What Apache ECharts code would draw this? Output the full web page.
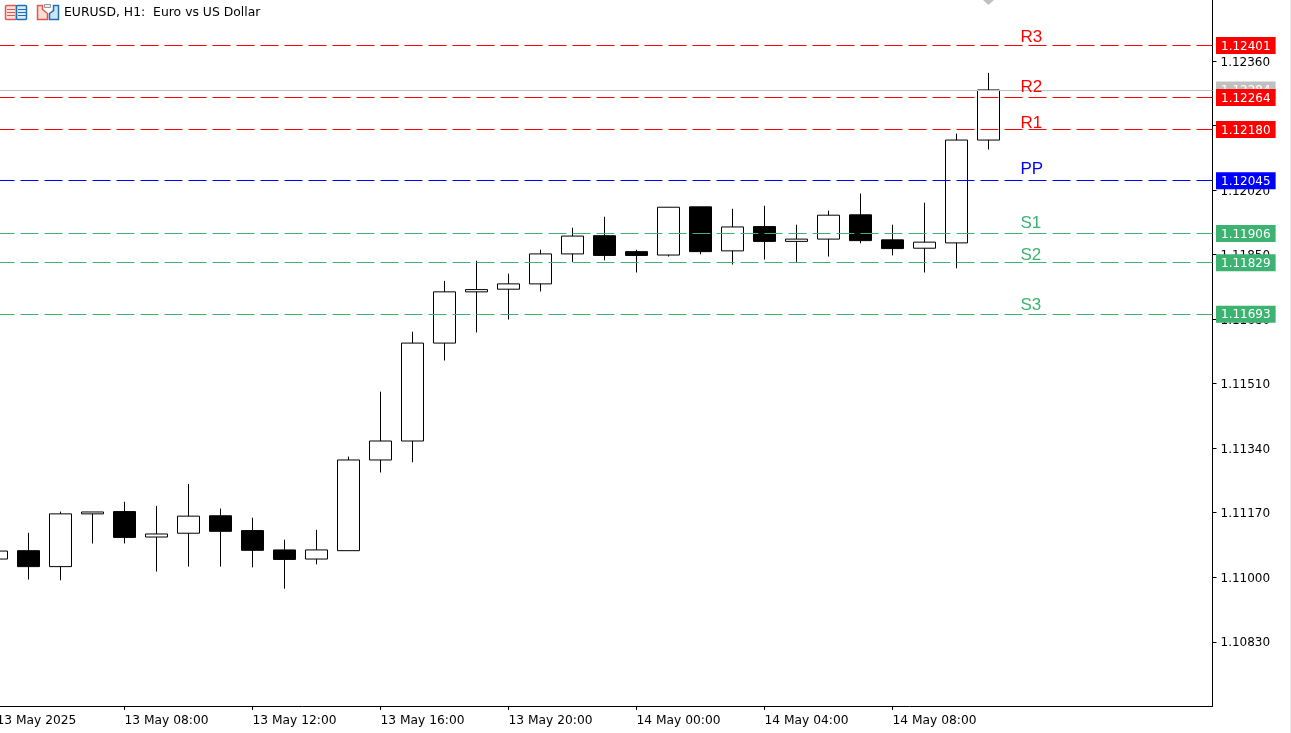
<!DOCTYPE html>
<html>
<head>
<meta charset="utf-8">
<title>EURUSD, H1</title>
<script src="https://cdn.jsdelivr.net/npm/echarts@6/dist/echarts.min.js"></script>
<style>
html,body{margin:0;padding:0;background:#fff;overflow:hidden}
#myChart{width:1291px;height:733px}
</style>
</head>
<body>
<div id="myChart"></div>
<script>
// x axis, one slot per hour, the last ones are still empty
const categories = [
  '13 May 2025','13 May 05:00','13 May 06:00','13 May 07:00','13 May 08:00','13 May 09:00','13 May 10:00','13 May 11:00',
  '13 May 12:00','13 May 13:00','13 May 14:00','13 May 15:00','13 May 16:00','13 May 17:00','13 May 18:00','13 May 19:00',
  '13 May 20:00','13 May 21:00','13 May 22:00','13 May 23:00','14 May 00:00','14 May 01:00','14 May 02:00','14 May 03:00',
  '14 May 04:00','14 May 05:00','14 May 06:00','14 May 07:00','14 May 08:00','14 May 09:00','14 May 10:00','14 May 11:00',
  '14 May 12:00','14 May 13:00','14 May 14:00','14 May 15:00','14 May 16:00','14 May 17:00','14 May 18:00'
];
const opens = [1.11048,1.11070,1.11028,1.11167,1.11173,1.11106,1.11116,1.11162,1.11123,1.11072,1.11048,1.11070,1.11309,1.11359,1.11617,1.11752,1.11759,1.11773,1.11852,1.11900,1.11858,1.11849,1.11976,1.11860,1.11924,1.11885,1.11891,1.11955,1.11889,1.11867,1.11881,1.12152];
const closes = [1.11069,1.11028,1.11167,1.11172,1.11105,1.11114,1.11161,1.11121,1.11071,1.11047,1.11072,1.11309,1.11359,1.11617,1.11752,1.11758,1.11773,1.11852,1.11899,1.11848,1.11848,1.11975,1.11858,1.11923,1.11885,1.11891,1.11954,1.11887,1.11866,1.11883,1.12152,1.12284];
const lows = [1.11048,1.10994,1.10992,1.11089,1.11089,1.11015,1.11028,1.11028,1.11026,1.10970,1.11034,1.11070,1.11276,1.11303,1.11571,1.11645,1.11679,1.11753,1.11831,1.11835,1.11803,1.11845,1.11851,1.11824,1.11837,1.11831,1.11845,1.11880,1.11848,1.11803,1.11814,1.12127];
const highs = [1.11069,1.11117,1.11173,1.11172,1.11199,1.11188,1.11246,1.11181,1.11157,1.11099,1.11125,1.11318,1.11489,1.11647,1.11781,1.11834,1.11800,1.11863,1.11921,1.11950,1.11863,1.11975,1.11976,1.11971,1.11979,1.11929,1.11966,1.12011,1.11929,1.11987,1.12169,1.12329];

const priceTicks = [1.10830,1.11000,1.11170,1.11340,1.11510,1.11680,1.11850,1.12020,1.12190,1.12360];

// pivot levels and where their names sit
const levelNames = ['R3','R2','R1','PP','S1','S2','S3'];
const levelValues = [1.12401,1.12264,1.12180,1.12045,1.11906,1.11829,1.11693];
const levelNamePrices = [1.12408,1.12274,1.12179,1.12058,1.11918,1.11833,1.11700];
const levelColors = ['#ff0000','#ff0000','#ff0000','#0000ff','#3cb371','#3cb371','#3cb371'];
const levelNameSlot = 32;

const bidPrice = 1.12284;
const bidColor = '#c0c0c0';
const lastSlot = 31;
const edgeSlot = 38;
const arrowPrice = 1.12521;

let myChart = echarts.init(document.getElementById('myChart'), null, {renderer:'canvas'});

const FONT = '"DejaVu Sans"';
const candleData = opens.map((o,i)=>[o,closes[i],lows[i],highs[i]]);

// price tags right of the axis, bid first so the pivots cover it
const tagData = [bidPrice].concat(levelValues).map((v,i)=>({
  value:[edgeSlot,v],
  label:{backgroundColor:i===0?bidColor:levelColors[i-1]}
}));

let option = {
  animation:false,
  backgroundColor:'#fff',
  grid:{left:-3.5,width:1216,top:0,height:706,outerBoundsMode:'none',containLabel:false},
  xAxis:{
    type:'category',
    data:categories,
    boundaryGap:false,
    axisLine:{show:true,onZero:false,lineStyle:{color:'#000',width:1}},
    axisTick:{show:true,length:4,interval:(i)=>i%4===0&&i<=28,lineStyle:{color:'#000'}},
    axisLabel:{
      show:true,
      interval:(i)=>i%4===0&&i<=28,
      align:'left',
      margin:8,
      padding:[1,0,0,0],
      color:'#000',
      fontFamily:FONT,
      fontSize:12.25
    },
    splitLine:{show:false}
  },
  yAxis:{
    type:'value',
    position:'right',
    min:1.1066074,
    max:1.1252104,
    axisLine:{show:true,lineStyle:{color:'#000',width:1}},
    axisTick:{show:true,length:4,customValues:priceTicks,lineStyle:{color:'#000'}},
    axisLabel:{
      show:true,
      customValues:priceTicks,
      formatter:(v)=>v.toFixed(5),
      margin:8,
      verticalAlign:'top',
      lineHeight:3,
      color:'#000',
      fontFamily:FONT,
      fontSize:12
    },
    splitLine:{show:false}
  },
  series:[
    {
      name:'EURUSD',
      type:'candlestick',
      data:candleData,
      barWidth:22,
      itemStyle:{color:'#fff',color0:'#000',borderColor:'#000',borderColor0:'#000',borderWidth:1},
      z:2
    },
    {
      name:'bid',
      type:'line',
      data:[],
      markLine:{
        silent:true,
        symbol:'none',
        animation:false,
        precision:5,
        lineStyle:{type:'solid',color:bidColor,width:1},
        label:{show:false},
        data:[{yAxis:bidPrice}]
      },
      z:3
    },
    {
      name:'pivots',
      type:'line',
      data:[],
      markLine:{
        silent:true,
        symbol:'none',
        animation:false,
        precision:5,
        label:{show:false},
        data:levelValues.map((v,i)=>({
          yAxis:v,
          name:levelNames[i],
          lineStyle:{type:[18,6],color:levelColors[i],width:1}
        }))
      },
      z:4
    },
    {
      name:'tags',
      type:'scatter',
      symbolSize:0,
      silent:true,
      itemStyle:{opacity:1},
      data:tagData,
      label:{
        show:true,
        position:'right',
        distance:3.5,
        verticalAlign:'top',
        offset:[0,-8.5],
        formatter:(p)=>p.value[1].toFixed(5),
        color:'#fff',
        fontFamily:FONT,
        fontSize:12,
        lineHeight:13,
        padding:[3,5,1,5]
      },
      z:5
    },
    {
      name:'levelNames',
      type:'scatter',
      symbolSize:0,
      silent:true,
      itemStyle:{opacity:1},
      data:levelNames.map((n,i)=>({
        value:[levelNameSlot,levelNamePrices[i]],
        name:n,
        label:{
          show:true,
          position:'right',
          distance:0,
          verticalAlign:'bottom',
          offset:[0,2.5],
          formatter:'{b}',
          color:levelColors[i],
          fontFamily:'"Liberation Sans"',
          fontSize:17
        }
      })),
      z:5
    },
    {
      name:'arrow',
      type:'scatter',
      symbol:'diamond',
      symbolSize:[11,10],
      silent:true,
      clip:false,
      itemStyle:{color:bidColor,opacity:1},
      data:[[lastSlot,arrowPrice]],
      z:5
    }
  ],
  graphic:[
    {type:'text',x:64,y:7,style:{text:'EURUSD, H1:  Euro vs US Dollar',fill:'#000',font:'12.4px "DejaVu Sans"'},z:10},
    // the two toolbar icons
    {type:'rect',shape:{x:5.5,y:5.5,width:11,height:14,r:1},style:{fill:'#fbe3df',stroke:'#e2574c',lineWidth:1.5},z:10},
    {type:'rect',shape:{x:16.5,y:5.5,width:10,height:14,r:1},style:{fill:'#dcebf8',stroke:'#1f6fb2',lineWidth:1.5},z:10},
    {type:'line',shape:{x1:7,y1:9.5,x2:15,y2:9.5},style:{stroke:'#e2574c'},z:10},
    {type:'line',shape:{x1:7,y1:12.5,x2:15,y2:12.5},style:{stroke:'#e2574c'},z:10},
    {type:'line',shape:{x1:7,y1:15.5,x2:15,y2:15.5},style:{stroke:'#e2574c'},z:10},
    {type:'line',shape:{x1:18,y1:9.5,x2:26,y2:9.5},style:{stroke:'#1f6fb2'},z:10},
    {type:'line',shape:{x1:18,y1:12.5,x2:26,y2:12.5},style:{stroke:'#1f6fb2'},z:10},
    {type:'line',shape:{x1:18,y1:15.5,x2:26,y2:15.5},style:{stroke:'#1f6fb2'},z:10},
    {type:'polygon',shape:{points:[[37.5,5.5],[42.5,5.5],[42.5,9.5],[47.5,13.5],[47.5,19.5],[37.5,19.5]]},style:{fill:'#fbdcd6',stroke:'#e2574c',lineWidth:1.5},z:10},
    {type:'polygon',shape:{points:[[58.5,5.5],[53.5,5.5],[53.5,10.5],[49.5,13.5],[49.5,19.5],[58.5,19.5]]},style:{fill:'#cfe5f7',stroke:'#1f6fb2',lineWidth:1.5},z:10},
    {type:'rect',shape:{x:44.5,y:4.5,width:6,height:3},style:{fill:'#eee',stroke:'#999'},z:10},
    // thin strip on the window edge
    {type:'rect',shape:{x:1290,y:0,width:1,height:733},style:{fill:'#e6e6e6'},z:10}
  ]
};
myChart.setOption(option);
</script>
</body>
</html>
